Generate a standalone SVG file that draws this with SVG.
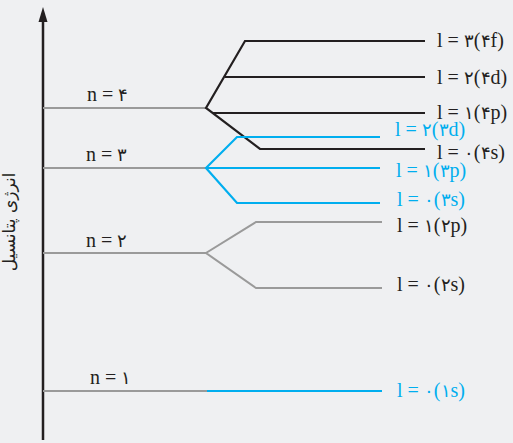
<svg xmlns="http://www.w3.org/2000/svg" width="513" height="443" viewBox="0 0 513 443">
<style>
.bg{fill:#eff0f2}
.ax{stroke:#231f20;stroke-width:2.5;fill:none}
.g{stroke:#9a9a9a;stroke-width:2;fill:none}
.k{stroke:#231f20;stroke-width:2.2;fill:none}
.b{stroke:#00aeef;stroke-width:2.2;fill:none}
text{font-family:"Liberation Serif",serif;font-size:20px;fill:#231f20}
.d{font-family:"DejaVu Sans",sans-serif;font-size:18px;font-weight:300}
.tb{fill:#00aeef}
.fa{font-family:"DejaVu Sans","Noto Sans",sans-serif;font-size:17px}
</style>
<rect class="bg" x="0" y="0" width="513" height="443"/>
<g id="axis">
<line class="ax" x1="43" y1="440" x2="43" y2="21"/>
<path d="M38.5,22 L43,7 L47.5,22 Z" fill="#231f20"/>
<text class="fa" transform="translate(15,222) rotate(-90)" text-anchor="middle" direction="rtl">انرژی پتانسیل</text>
</g>
<g id="connectors">
<line class="g" x1="43" y1="108" x2="206" y2="108"/>
<line class="g" x1="43" y1="168" x2="206" y2="168"/>
<line class="g" x1="43" y1="253" x2="206" y2="253"/>
<line class="g" x1="43" y1="391" x2="207" y2="391"/>
<polyline class="k" points="425,41 245,41 206,108 260,149 425,149"/>
<line class="k" x1="225" y1="77" x2="425" y2="77"/>
<line class="k" x1="213" y1="113" x2="425" y2="113"/>
<polyline class="b" points="380,137 237,137 206,168 237,203 380,203"/>
<line class="b" x1="206" y1="168" x2="380" y2="168"/>
<polyline class="g" points="382,222 256,222 206,253 256,288 382,288"/>
<line class="b" x1="207" y1="391" x2="382" y2="391"/>
</g>
<g id="n4"><text x="87" y="101">n = <tspan class="d">۴</tspan></text></g>
<g id="n3"><text x="86" y="161">n = <tspan class="d">۳</tspan></text></g>
<g id="n2"><text x="86" y="247">n = <tspan class="d">۲</tspan></text></g>
<g id="n1"><text x="90" y="384">n = <tspan class="d">۱</tspan></text></g>
<g id="l4f"><text x="437" y="47">l = <tspan class="d">۳</tspan>(<tspan class="d">۴</tspan>f)</text></g>
<g id="l4d"><text x="437" y="84">l = <tspan class="d">۲</tspan>(<tspan class="d">۴</tspan>d)</text></g>
<g id="l4p"><text x="437" y="119">l = <tspan class="d">۱</tspan>(<tspan class="d">۴</tspan>p)</text></g>
<g id="l3d"><text class="tb" x="395" y="136">l = <tspan class="d">۲</tspan>(<tspan class="d">۳</tspan>d)</text></g>
<g id="l4s"><text x="437" y="159">l = <tspan class="d">۰</tspan>(<tspan class="d">۴</tspan>s)</text></g>
<g id="l3p"><text class="tb" x="396" y="177">l = <tspan class="d">۱</tspan>(<tspan class="d">۳</tspan>p)</text></g>
<g id="l3s"><text class="tb" x="397" y="206">l = <tspan class="d">۰</tspan>(<tspan class="d">۳</tspan>s)</text></g>
<g id="l2p"><text x="397" y="232">l = <tspan class="d">۱</tspan>(<tspan class="d">۲</tspan>p)</text></g>
<g id="l2s"><text x="397" y="291">l = <tspan class="d">۰</tspan>(<tspan class="d">۲</tspan>s)</text></g>
<g id="l1s"><text class="tb" x="397" y="397">l = <tspan class="d">۰</tspan>(<tspan class="d">۱</tspan>s)</text></g>
</svg>
